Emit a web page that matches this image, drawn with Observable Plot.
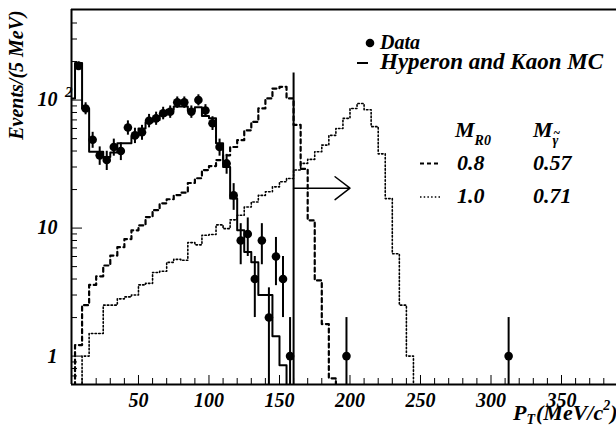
<!DOCTYPE html>
<html><head><meta charset="utf-8">
<script src="https://cdn.jsdelivr.net/npm/d3@7"></script>
<script src="https://cdn.jsdelivr.net/npm/@observablehq/plot@0.6"></script>
<style>body{margin:0;background:#fff;overflow:hidden}</style>
</head><body><div id="chart"></div>
<script>
// ---- data (5 MeV bins starting at P_T = 0) ----
const binWidth = 5;
const mcValues = [103,195,86,39.5,39.5,36,39,46,46,52,60,67,70,76,84,89,89,82,88,75,72,46,30,17,9.6,6.5,5.4,3.0,3.0,1.43,0.85,0];
const dashValues = [0,1.22,2.5,3.6,4.2,5.1,6.1,7.1,8.2,9.6,10.5,12.2,13.8,15.6,16.8,18.1,18.9,22.5,24.5,28.4,30.5,34,37,43,48.6,58,67.5,86,103,123,127,103,64,29,11.5,3.9,1.78,0.67,0];
const dotValues = [0,0,1.0,1.5,1.5,2.5,2.5,2.8,2.9,3.0,3.6,3.7,4.5,4.6,5.4,5.7,5.6,7.7,7.4,8.8,8.9,10.6,9.9,11.6,12.6,14.6,16,18,19.2,21,23,24.4,28.4,32,34.4,39.5,44.5,53,60,72,86,94,84,62,38,17,6.3,2.5,1.0,0];
const dataCenters = [7.5,12.5,17.5,22.5,27.5,32.5,37.5,42.5,47.5,52.5,57.5,62.5,67.5,72.5,77.5,82.5,87.5,92.5,97.5,102.5,107.5,112.5,117.5,122.5,127.5,132.5,137.5,142.5,147.5,152.5,157.5,197.5,312.5];
const dataCounts = [185,86,49,37,34,43,40,61,53,56,69,72,79,81,96,96,81,100,83,66,43,32,18,8,9,4,8,2,6,4,1,1,1];
const cutPT = 160, cutTop = 163, arrowEnd = 200, arrowLevel = 20.5;
const xTicks = [50,100,150,200,250,300,350];
const yTicks = [1,10,100];
const yTickLabels = ["1","10","10"];
const xDomain = [2.5, 389];
const yDomain = [0.6, 510];
const floor = 0.1;

function steps(values) {
  const pts = values.map((v, i) => ({x: i * binWidth, y: v > 0 ? v : floor}));
  pts.push({x: values.length * binWidth, y: floor});
  return pts;
}
const data = dataCenters.map((x, i) => ({x, n: dataCounts[i]}));

const minorY = [];
for (const dec of [0.1, 1, 10, 100]) for (let k = 2; k <= 9; k++) {
  const v = +(k * dec).toFixed(3);
  if (v >= yDomain[0] && v <= 400) minorY.push(v);
}
const minorX = d3.range(10, 390, 10).filter(v => v % 50 !== 0);

const FONT = "Liberation Serif, Times New Roman, serif";

function overlay() {
  const g = d3.create("svg:g")
    .attr("font-family", FONT).attr("font-weight", "bold").attr("font-style", "italic")
    .attr("fill", "black").attr("text-anchor", "start");
  // legend: data / MC
  g.append("circle").attr("cx", 370).attr("cy", 43).attr("r", 4.3);
  g.append("text").attr("x", 380).attr("y", 43).attr("dy", "0.32em").attr("font-size", 20).text("Data");
  g.append("line").attr("x1", 357).attr("x2", 368).attr("y1", 63).attr("y2", 63).attr("stroke", "black").attr("stroke-width", 2);
  g.append("text").attr("x", 380).attr("y", 61.6).attr("dy", "0.32em").attr("font-size", 23).text("Hyperon and Kaon MC");
  // legend: models
  const t1 = g.append("text").attr("x", 455).attr("y", 129.5).attr("dy", "0.32em").attr("font-size", 22);
  t1.append("tspan").text("M");
  t1.append("tspan").attr("font-size", 14).attr("dy", 8).text("R0");
  const t2 = g.append("text").attr("x", 533).attr("y", 129.5).attr("dy", "0.32em").attr("font-size", 22);
  t2.append("tspan").text("M");
  t2.append("tspan").attr("class", "gamma-sub").attr("font-size", 14).attr("dy", 8).text("γ");
  g.append("text").attr("class", "gamma-tilde").attr("x", 557).attr("y", 130).attr("text-anchor", "middle")
    .attr("dy", "0.32em").attr("font-size", 12).text("~");
  g.append("line").attr("x1", 420).attr("x2", 440).attr("y1", 163.5).attr("y2", 163.5).attr("stroke", "black").attr("stroke-width", 2.2).attr("stroke-dasharray", "4,3");
  g.append("line").attr("x1", 420).attr("x2", 440).attr("y1", 197).attr("y2", 197).attr("stroke", "black").attr("stroke-width", 1.6).attr("stroke-dasharray", "1.5,2.2");
  [["0.8", "0.57", 162.8], ["1.0", "0.71", 196]].forEach(([a, b, y]) => {
    g.append("text").attr("x", 457).attr("y", y).attr("dy", "0.32em").attr("font-size", 22).text(a);
    g.append("text").attr("x", 533).attr("y", y).attr("dy", "0.32em").attr("font-size", 22).text(b);
  });
  // y axis title
  g.append("text").attr("transform", "translate(16.5,75) rotate(-90)").attr("text-anchor", "middle")
    .attr("dy", "0.32em").attr("font-size", 20).text("Events/(5 MeV)");
  // y superscript for 10^2
  g.append("text").attr("x", 65).attr("y", 92).attr("dy", "0.32em").attr("font-size", 15).text("2");
  // x axis title
  const xt = g.append("text").attr("x", 513).attr("y", 420).attr("font-size", 22);
  xt.append("tspan").text("P");
  xt.append("tspan").attr("font-size", 14).attr("dy", 4).text("T");
  xt.append("tspan").attr("dy", -4).attr("dx", 1).text("(MeV/c");
  xt.append("tspan").attr("font-size", 14).attr("dy", -10).text("2");
  xt.append("tspan").attr("dy", 10).text(")");
  return g.node();
}

const chart = Plot.plot({
  width: 616, height: 428,
  marginLeft: 71, marginRight: 0, marginTop: 9, marginBottom: 44,
  style: {fontFamily: FONT, fontWeight: "bold", fontStyle: "italic", fontSize: "20px", color: "black", background: "white", overflow: "visible"},
  x: {domain: xDomain},
  y: {type: "log", domain: yDomain},
  marks: [
    Plot.line(steps(dotValues), {x: "x", y: "y", curve: "step-after", stroke: "black", strokeWidth: 1.6, strokeDasharray: "1.5,2.2", clip: true}),
    Plot.line(steps(dashValues), {x: "x", y: "y", curve: "step-after", stroke: "black", strokeWidth: 2.2, strokeDasharray: "4,3.5", clip: true}),
    Plot.line(steps(mcValues), {x: "x", y: "y", curve: "step-after", stroke: "black", strokeWidth: 2, clip: true}),
    Plot.ruleX(data, {x: "x", y1: d => Math.max(d.n - Math.sqrt(d.n), floor), y2: d => d.n + Math.sqrt(d.n), stroke: "black", strokeWidth: 2, clip: true}),
    Plot.dot(data, {x: "x", y: "n", r: 4.3, fill: "black", clip: true}),
    Plot.ruleX([cutPT], {y1: yDomain[0], y2: cutTop, stroke: "black", strokeWidth: 2}),
    Plot.arrow([{x1: cutPT, x2: arrowEnd, y: arrowLevel}], {x1: "x1", x2: "x2", y1: "y", y2: "y", stroke: "black", strokeWidth: 1.5, headAngle: 75, headLength: 20, insetStart: 0, insetEnd: 0}),
    // frame (left, top, bottom)
    Plot.ruleX([xDomain[0]], {stroke: "black", strokeWidth: 2}),
    Plot.ruleY([yDomain[1]], {stroke: "black", strokeWidth: 2}),
    Plot.ruleY([yDomain[0]], {stroke: "black", strokeWidth: 2}),
    // axes
    Plot.axisX({ticks: xTicks, tickSize: 0, tickPadding: 8, label: null, fontSize: 20}),
    Plot.axisX({ticks: xTicks, tickSize: -9, tickFormat: () => "", label: null, strokeWidth: 1}),
    Plot.axisX({ticks: minorX, tickSize: -6, tickFormat: () => "", label: null, strokeWidth: 1}),
    Plot.axisY({ticks: yTicks, tickSize: 0, tickPadding: 14, tickFormat: d => yTickLabels[yTicks.indexOf(d)], label: null, fontSize: 20}),
    Plot.axisY({ticks: yTicks, tickSize: -11, tickFormat: () => "", label: null, strokeWidth: 1}),
    Plot.axisY({ticks: minorY, tickSize: -6, tickFormat: () => "", label: null, strokeWidth: 1}),
    overlay
  ]
});
document.getElementById("chart").appendChild(chart);
// place the tilde exactly above the subscript gamma
const gam = chart.querySelector(".gamma-sub");
const til = chart.querySelector(".gamma-tilde");
if (gam && til && gam.getBBox) {
  const b = gam.getBBox();
  til.setAttribute("x", b.x + b.width / 2 + 1);
  til.setAttribute("y", b.y + 1);
}
</script>
</body></html>
